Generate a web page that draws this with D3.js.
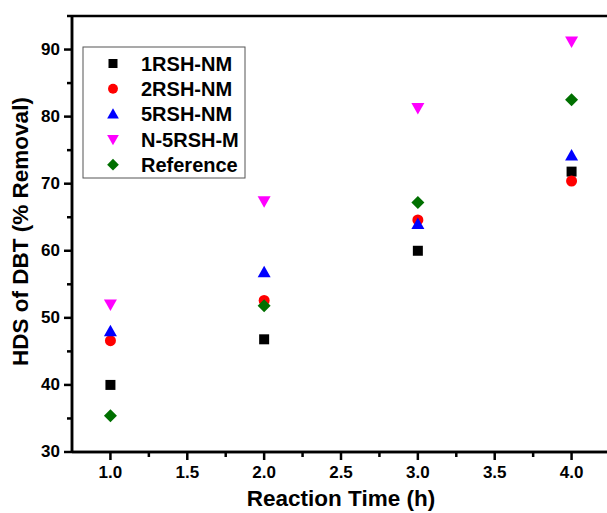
<!DOCTYPE html>
<html>
<head>
<meta charset="utf-8">
<script src="https://cdn.jsdelivr.net/npm/d3@7"></script>
<style>
  body { margin: 0; background: #fff; }
  svg { font-family: Arial, "Liberation Sans", sans-serif; font-weight: bold; }
  .axis path, .axis line { stroke: #000; stroke-width: 2.5; }
  .axis text { font-size: 17px; font-weight: bold; fill: #000; }
  .axisText { font-size: 22.5px; font-weight: bold; }
</style>
</head>
<body>
<div id="chart"></div>
<script>
var svgWidth = 607;
var svgHeight = 513;

var margin = { top: 16, right: -3, bottom: 61, left: 72 };
var width = svgWidth - margin.left - margin.right;
var height = svgHeight - margin.top - margin.bottom;

// data
var times = [1.0, 2.0, 3.0, 4.0];
var seriesNames = ["1RSH-NM", "2RSH-NM", "5RSH-NM", "N-5RSH-M", "Reference"];
var rsh1 = [40.0, 46.8, 60.0, 71.8];
var rsh2 = [46.6, 52.6, 64.6, 70.4];
var rsh5 = [48.0, 56.8, 64.0, 74.2];
var n5rshM = [52.0, 67.4, 81.3, 91.2];
var reference = [35.4, 51.8, 67.2, 82.5];
var xTicks = [1.0, 1.5, 2.0, 2.5, 3.0, 3.5, 4.0];
var yTicks = [30, 40, 50, 60, 70, 80, 90];

var seriesValues = [rsh1, rsh2, rsh5, n5rshM, reference];
var colors = ["#000000", "#ff0000", "#0000ff", "#ff00ff", "#007000"];
var shapes = ["square", "circle", "up", "down", "diamond"];

function markerPath(shape) {
    if (shape == "square") return "M-5,-5H5V5H-5Z";
    if (shape == "circle") return "M5.5,0A5.5,5.5 0 1,1 -5.5,0A5.5,5.5 0 1,1 5.5,0Z";
    if (shape == "up") return "M0,-6.5L6.5,5L-6.5,5Z";
    if (shape == "down") return "M0,6.5L6.5,-5L-6.5,-5Z";
    return "M0,-6.5L6.5,0L0,6.5L-6.5,0Z";
}

var svg = d3.select("#chart")
    .append("svg")
    .attr("width", svgWidth)
    .attr("height", svgHeight);

var chartGroup = svg.append("g")
    .attr("transform", `translate(${margin.left}, ${margin.top})`);

var xScale = d3.scaleLinear()
    .domain([0.75, 4.25])
    .range([0, width]);

var yScale = d3.scaleLinear()
    .domain([30, 95])
    .range([height, 0]);

// minor ticks first
chartGroup.append("g")
    .attr("class", "axis")
    .attr("transform", `translate(0, ${height})`)
    .call(d3.axisBottom(xScale).offset(0).tickValues(d3.range(1.25, 4.01, 0.5)).tickSize(5).tickSizeOuter(0).tickFormat(""));
chartGroup.append("g")
    .attr("class", "axis")
    .call(d3.axisLeft(yScale).offset(0).tickValues([35, 45, 55, 65, 75, 85, 95]).tickSize(5).tickSizeOuter(0).tickFormat(""));

chartGroup.append("g")
    .attr("class", "axis")
    .attr("transform", `translate(0, ${height})`)
    .call(d3.axisBottom(xScale).offset(0).tickValues(xTicks).tickSize(8).tickSizeOuter(0).tickPadding(6).tickFormat(d3.format(".1f")));

chartGroup.append("g")
    .attr("class", "axis")
    .call(d3.axisLeft(yScale).offset(0).tickValues(yTicks).tickSize(8).tickSizeOuter(0).tickPadding(4));

// top frame line
chartGroup.append("line")
    .attr("x1", 0).attr("x2", width)
    .attr("y1", 0).attr("y2", 0)
    .attr("stroke", "#000")
    .attr("stroke-width", 2.5);

seriesValues.forEach(function(vals, i) {
    chartGroup.selectAll(".s" + i)
        .data(vals)
        .enter()
        .append("path")
        .attr("class", "s" + i)
        .attr("transform", (d, j) => `translate(${xScale(times[j])}, ${yScale(d)})`)
        .attr("d", markerPath(shapes[i]))
        .attr("fill", colors[i]);
});

// legend
var legend = svg.append("g")
    .attr("transform", "translate(83, 47)");

legend.append("rect")
    .attr("width", 162)
    .attr("height", 131)
    .attr("fill", "#fff")
    .attr("stroke", "#555")
    .attr("stroke-width", 1);

seriesNames.forEach(function(name, i) {
    var row = legend.append("g")
        .attr("transform", `translate(0, ${16.5 + i * 25.3})`);
    row.append("path")
        .attr("transform", "translate(30, 0) scale(0.9)")
        .attr("d", markerPath(shapes[i]))
        .attr("fill", colors[i]);
    row.append("text")
        .attr("x", 58)
        .attr("dy", "0.36em")
        .style("font-size", "20px")
        .text(name);
});

svg.append("text")
    .attr("class", "axisText")
    .attr("transform", `translate(28, 231.5) rotate(-90)`)
    .style("text-anchor", "middle")
    .text("HDS of DBT (% Removal)");

svg.append("text")
    .attr("class", "axisText")
    .attr("x", 341)
    .attr("y", 506)
    .style("text-anchor", "middle")
    .text("Reaction Time (h)");
</script>
</body>
</html>
